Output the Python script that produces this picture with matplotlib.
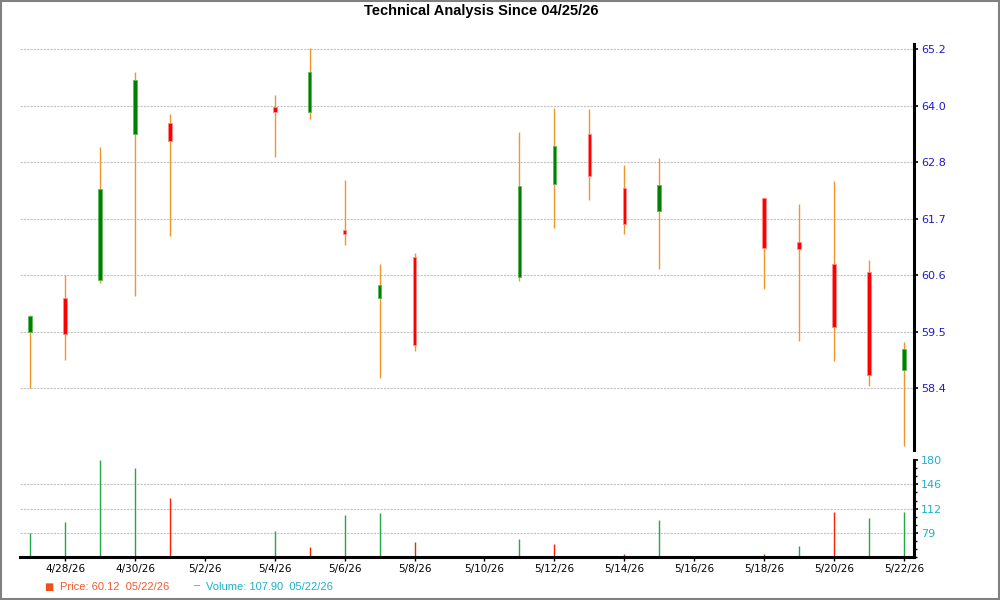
import matplotlib
matplotlib.use("Agg")
import matplotlib.pyplot as plt
import matplotlib.dates as mdates
from matplotlib.ticker import MultipleLocator
from matplotlib.patches import Rectangle
import numpy as np
import pandas as pd

# ---------------- data ----------------
dates = ["2026-04-27", "2026-04-28", "2026-04-29", "2026-04-30", "2026-05-01",
         "2026-05-04", "2026-05-05", "2026-05-06", "2026-05-07", "2026-05-08",
         "2026-05-11", "2026-05-12", "2026-05-13", "2026-05-14", "2026-05-15",
         "2026-05-18", "2026-05-19", "2026-05-20", "2026-05-21", "2026-05-22"]
opens  = [59.52, 60.20, 60.57, 63.49, 63.71, 64.03, 63.94, 61.58, 60.21, 61.04,
          60.63, 62.49, 63.49, 62.41, 61.95, 62.22, 61.33, 60.90, 60.74, 58.76]
highs  = [59.86, 60.67, 63.23, 64.74, 63.90, 64.28, 65.22, 62.57, 60.89, 61.11,
          63.53, 64.02, 64.00, 62.87, 63.02, 62.22, 62.10, 62.55, 60.97, 59.32]
lows   = [58.40, 58.97, 60.51, 60.24, 61.46, 63.03, 63.80, 61.28, 58.61, 59.14,
          60.54, 61.62, 62.18, 61.50, 60.80, 60.38, 59.34, 58.95, 58.45, 57.25]
closes = [59.84, 59.49, 62.40, 64.57, 63.35, 63.94, 64.73, 61.50, 60.46, 59.27,
          62.45, 63.25, 62.66, 61.70, 62.47, 61.21, 61.19, 59.63, 58.66, 59.18]
volumes = [78.3, 93.5, 179.5, 168.4, 126.8, 81.5, 58.9, 103.3, 106.0, 65.8,
           70.0, 63.0, 44.0, 49.2, 96.3, 49.2, 60.3, 107.4, 99.1, 107.9]
vol_dir = ["up", "up", "up", "up", "down", "up", "down", "up", "up", "down",
           "up", "down", "down", "down", "up", "down", "up", "down", "up", "up"]

price_ticks = [58.4, 59.5, 60.6, 61.7, 62.8, 64.0, 65.2]
vol_tick_labels = ["79", "112", "146", "180"]
x_tick_dates = ["2026-04-28", "2026-04-30", "2026-05-02", "2026-05-04", "2026-05-06",
                "2026-05-08", "2026-05-10", "2026-05-12", "2026-05-14", "2026-05-16",
                "2026-05-18", "2026-05-20", "2026-05-22"]
title = "Technical Analysis Since 04/25/26"
legend_price = "Price: 60.12  05/22/26"
legend_volume = "Volume: 107.90  05/22/26"

# ---------------- styling ----------------
plt.rcParams['font.family'] = ['DejaVu Sans']
GREEN_BODY = '#008000'
RED_BODY = '#FF0000'
WICK = '#F0962A'
VOL_UP = '#22A845'
VOL_DOWN = '#FF2200'
PRICE_LBL = '#1C1CC8'
VOL_LBL = '#1EB0C8'
GRID = '#C4C4C4'

x = mdates.date2num(pd.to_datetime(dates))
xt = mdates.date2num(pd.to_datetime(x_tick_dates))
o = np.array(opens); h = np.array(highs); l = np.array(lows); c = np.array(closes)
v = np.array(volumes)

fig = plt.figure(figsize=(10, 6), dpi=100)
fig.patch.set_facecolor('white')

xlim = (x[0] - 0.29, x[-1] + 0.29)

# Price axes
axp = fig.add_axes([0.02, 0.25, 0.894, 0.6767])
ymin_p = 58.4 - 61.7 / 49.85
ymax_p = 65.2 + 5.0 / 49.85
axp.set_xlim(*xlim)
axp.set_ylim(ymin_p, ymax_p)
for sp in ['left', 'top', 'bottom']:
    axp.spines[sp].set_visible(False)
axp.spines['right'].set_linewidth(2.2)
axp.spines['right'].set_color('black')
axp.yaxis.tick_right()
axp.set_yticks(np.linspace(58.4, 65.2, 7))
axp.set_yticklabels([f"{t:.1f}" for t in price_ticks])
axp.tick_params(axis='y', direction='out', length=3, width=1.2, colors='black',
                labelcolor=PRICE_LBL, labelsize=8, pad=2)
axp.set_xticks([])
for t in np.linspace(58.4, 65.2, 7):
    axp.axhline(t, color=GRID, lw=0.8, ls=(0, (2, 1)), zorder=0)

# wicks
axp.vlines(x, l, h, color=WICK, lw=1.0, zorder=2)
# bodies
up = c >= o
body_bottom = np.minimum(o, c)
body_h = np.maximum(np.abs(c - o), 0.02)
axp.bar(x[up], body_h[up], bottom=body_bottom[up], width=0.1,
        color=GREEN_BODY, edgecolor='#5DB85D', linewidth=0.6, zorder=3)
axp.bar(x[~up], body_h[~up], bottom=body_bottom[~up], width=0.1,
        color=RED_BODY, edgecolor='#FF8A8A', linewidth=0.6, zorder=3)

# Volume axes
axv = fig.add_axes([0.02, 0.0712, 0.894, 0.1621])
axv.set_xlim(*xlim)
axv.set_ylim(45, 180)
for sp in ['left', 'top']:
    axv.spines[sp].set_visible(False)
for sp in ['right', 'bottom']:
    axv.spines[sp].set_linewidth(2.2)
    axv.spines[sp].set_color('black')
axv.yaxis.tick_right()
vt = np.linspace(45, 180, 5)[1:]
axv.set_yticks(vt)
axv.set_yticklabels(vol_tick_labels)
axv.yaxis.set_minor_locator(MultipleLocator(11.25))
axv.tick_params(axis='y', which='major', direction='out', length=3, width=1.2,
                colors='black', labelcolor=VOL_LBL, labelsize=8, pad=2)
axv.tick_params(axis='y', which='minor', direction='out', length=2, width=1.0,
                colors='black')
for t in vt[:-1]:
    axv.axhline(t, color=GRID, lw=0.8, ls=(0, (2, 1)), zorder=0)
axv.set_xticks(xt)
axv.set_xticklabels([pd.Timestamp(d).strftime('%-m/%-d/%y') for d in x_tick_dates])
axv.tick_params(axis='x', direction='out', length=3, width=1.0, colors='black',
                labelsize=7.5, pad=2)
vcol = [VOL_UP if d == "up" else VOL_DOWN for d in vol_dir]
axv.vlines(x, 45, v, colors=vcol, lw=1.0, zorder=2)

# Title
fig.text(0.481, 0.982, title, ha='center', va='center', fontsize=10.5,
         fontweight='bold', family=['Liberation Sans', 'DejaVu Sans'])

# Legend
LEG_FONT = ['Liberation Sans', 'DejaVu Sans']
fig.text(0.049, 0.022, "■", color='#F05020', fontsize=7, ha='center', va='center')
fig.text(0.060, 0.022, legend_price, color='#F05A30', fontsize=8, ha='left',
         va='center', family=LEG_FONT)
fig.text(0.197, 0.024, "–", color=VOL_LBL, fontsize=8, ha='center', va='center',
         family=LEG_FONT)
fig.text(0.206, 0.022, legend_volume, color=VOL_LBL, fontsize=8, ha='left',
         va='center', family=LEG_FONT)

# figure border
fig.patches.append(Rectangle((0.001, 0.002), 0.998, 0.997, transform=fig.transFigure,
                             fill=False, edgecolor='#808080', lw=1.5))

fig.savefig("out.png", dpi=100)
